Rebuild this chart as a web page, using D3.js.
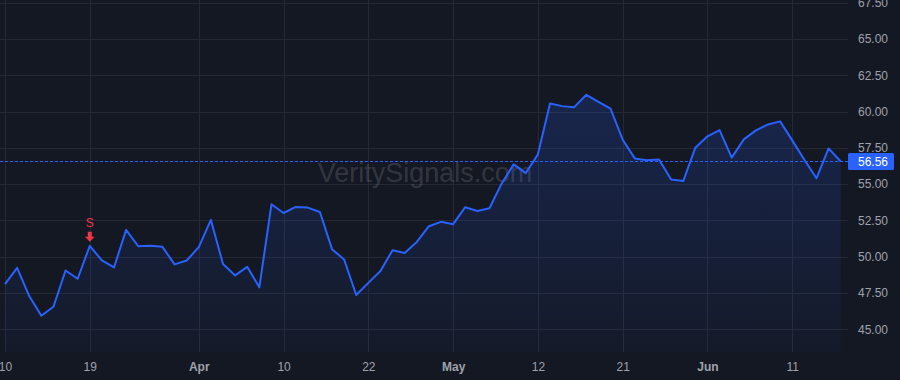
<!DOCTYPE html>
<html>
<head>
<meta charset="utf-8">
<script src="https://cdn.jsdelivr.net/npm/d3@7"></script>
<style>
  html, body { margin: 0; padding: 0; background: #141823; }
  svg { display: block; }
</style>
</head>
<body>
<svg id="chart" width="900" height="380"></svg>
<script>
// ---- data ----
const dates = [
  "2025-03-10","2025-03-11","2025-03-12","2025-03-13","2025-03-14","2025-03-17","2025-03-18","2025-03-19","2025-03-20","2025-03-21",
  "2025-03-24","2025-03-25","2025-03-26","2025-03-27","2025-03-28","2025-03-31","2025-04-01","2025-04-02","2025-04-03","2025-04-04",
  "2025-04-07","2025-04-08","2025-04-09","2025-04-10","2025-04-11","2025-04-14","2025-04-15","2025-04-16","2025-04-17","2025-04-21",
  "2025-04-22","2025-04-23","2025-04-24","2025-04-25","2025-04-28","2025-04-29","2025-04-30","2025-05-01","2025-05-02","2025-05-05",
  "2025-05-06","2025-05-07","2025-05-08","2025-05-09","2025-05-12","2025-05-13","2025-05-14","2025-05-15","2025-05-16","2025-05-19",
  "2025-05-20","2025-05-21","2025-05-22","2025-05-23","2025-05-27","2025-05-28","2025-05-29","2025-05-30","2025-06-02","2025-06-03",
  "2025-06-04","2025-06-05","2025-06-06","2025-06-09","2025-06-10","2025-06-11","2025-06-12","2025-06-13","2025-06-16","2025-06-17"
];
const closes = [
  48.11,49.23,47.29,45.93,46.55,49.05,48.48,50.75,49.74,49.26,
  51.85,50.72,50.75,50.68,49.47,49.74,50.66,52.53,49.49,48.71,
  49.30,47.89,53.61,53.01,53.43,53.38,53.08,50.52,49.81,47.36,
  48.20,49.01,50.45,50.26,51.02,52.10,52.40,52.24,53.41,53.15,
  53.34,55.03,56.36,55.76,57.05,60.55,60.37,60.30,61.15,60.67,
  60.19,58.06,56.77,56.64,56.70,55.31,55.21,57.51,58.29,58.72,
  56.82,58.08,58.70,59.11,59.32,58.01,56.68,55.40,57.46,56.56
];
const tickDates  = ["2025-03-10","2025-03-19","2025-04-01","2025-04-10","2025-04-22","2025-05-01","2025-05-12","2025-05-21","2025-06-02","2025-06-11"];
const tickLabels = ["10","19","Apr","10","22","May","12","21","Jun","11"];
const monthTicks = ["Apr","May","Jun"];
const yTicks = [45,47.5,50,52.5,55,57.5,60,62.5,65,67.5];
const signalDates = ["2025-03-19"];
const signalLabels = ["S"];
const watermark = "VeritySignals.com";

// ---- layout ----
const W = 900, H = 380;
const plotRight = 848, plotBottom = 352;
const FONT = "'Liberation Sans', Arial, sans-serif";

const svg = d3.select("#chart");
const idx = d3.range(dates.length);
const x = d3.scaleLinear().domain([0, dates.length - 1]).range([5, 840.7]);
const y = d3.scaleLinear().domain([45, 67.5]).range([329.3, 2.6]);
const di = d => dates.indexOf(d);

svg.append("rect").attr("width", W).attr("height", H).attr("fill", "#141823");

// gradient
const defs = svg.append("defs");
const grad = defs.append("linearGradient").attr("id", "areaGrad")
  .attr("gradientUnits", "userSpaceOnUse").attr("x1", 0).attr("x2", 0).attr("y1", 80).attr("y2", plotBottom);
grad.append("stop").attr("offset", "0%").attr("stop-color", "#2962ff").attr("stop-opacity", 0.2);
grad.append("stop").attr("offset", "100%").attr("stop-color", "#2962ff").attr("stop-opacity", 0.03);

// grid
const grid = svg.append("g");
grid.selectAll("line.h").data(yTicks).join("line")
  .attr("x1", 0).attr("x2", plotRight)
  .attr("y1", d => Math.round(y(d)) + 0.5).attr("y2", d => Math.round(y(d)) + 0.5)
  .attr("stroke", "#252934").attr("stroke-width", 1);
grid.selectAll("line.v").data(tickDates).join("line")
  .attr("x1", d => Math.round(x(di(d))) + 0.5).attr("x2", d => Math.round(x(di(d))) + 0.5)
  .attr("y1", 0).attr("y2", plotBottom)
  .attr("stroke", "#252934").attr("stroke-width", 1);

// watermark
svg.append("text").text(watermark)
  .attr("x", 425).attr("y", 182).attr("text-anchor", "middle")
  .attr("font-family", FONT).attr("font-size", 27)
  .attr("fill", "#ffffff").attr("fill-opacity", 0.15);

// area + line
const area = d3.area().x(i => x(i)).y0(plotBottom).y1(i => y(closes[i]));
svg.append("path").datum(idx).attr("d", area).attr("fill", "url(#areaGrad)");

const line = d3.line().x(i => x(i)).y(i => y(closes[i]));
svg.append("path").datum(idx).attr("d", line)
  .attr("fill", "none").attr("stroke", "#2962ff").attr("stroke-width", 2)
  .attr("stroke-linejoin", "round");

// last price dashed line
const last = closes[closes.length - 1];
svg.append("line")
  .attr("x1", 0).attr("x2", plotRight)
  .attr("y1", Math.round(y(last)) + 0.5).attr("y2", Math.round(y(last)) + 0.5)
  .attr("stroke", "#2962ff").attr("stroke-width", 1).attr("stroke-dasharray", "3,2");

// y axis
const yAxis = d3.axisRight(y).tickValues(yTicks).tickFormat(d3.format(".2f")).tickSize(0).tickPadding(10);
const gy = svg.append("g").attr("transform", `translate(${plotRight},0)`).call(yAxis);
gy.select(".domain").remove();
gy.selectAll("text").attr("font-family", FONT).attr("font-size", 12).attr("fill", "#9fa2ab");

// last price label
const ly = y(last);
svg.append("rect").attr("x", plotRight).attr("y", ly - 8.5).attr("width", 46).attr("height", 17)
  .attr("rx", 1.5).attr("fill", "#2962ff");
svg.append("text").text(d3.format(".2f")(last))
  .attr("x", plotRight + 10).attr("y", ly).attr("dy", "0.35em")
  .attr("font-family", FONT).attr("font-size", 12).attr("fill", "#ffffff");

// x axis
const xAxis = d3.axisBottom(x).tickValues(tickDates.map(di))
  .tickFormat((d, i) => tickLabels[i]).tickSize(0).tickPadding(10);
const gx = svg.append("g").attr("transform", `translate(0,${plotBottom})`).call(xAxis);
gx.select(".domain").remove();
gx.selectAll("text").attr("font-family", FONT).attr("font-size", 12).attr("fill", "#9fa2ab")
  .attr("font-weight", (d, i) => monthTicks.includes(tickLabels[i]) ? "bold" : "normal");

// signal markers
signalDates.forEach((d, k) => {
  const sx = x(di(d)), sy = y(closes[di(d)]);
  const g = svg.append("g").attr("fill", "#f23645");
  g.append("text").text(signalLabels[k]).attr("x", sx).attr("y", sy - 19)
    .attr("text-anchor", "middle").attr("font-family", FONT).attr("font-size", 12);
  g.append("path").attr("d",
    `M${sx-2},${sy-14} L${sx+2},${sy-14} L${sx+2},${sy-9} L${sx+4.8},${sy-9} L${sx},${sy-4} L${sx-4.8},${sy-9} L${sx-2},${sy-9} Z`);
});
</script>
</body>
</html>
